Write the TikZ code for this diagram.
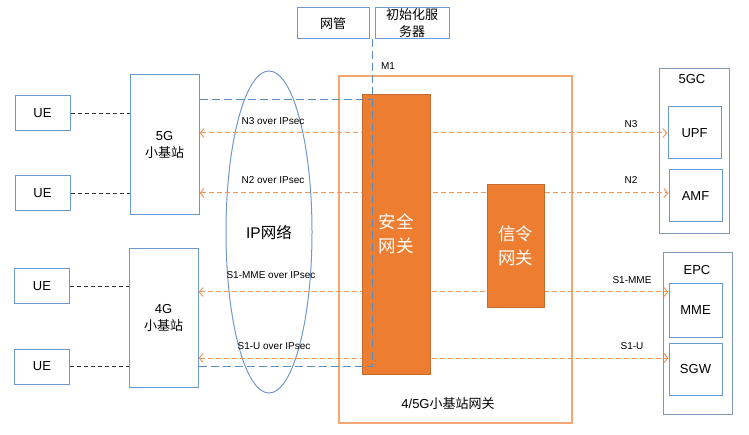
\documentclass[tikz,border=0pt]{standalone}
\usepackage{fontspec}
\setmainfont{Liberation Sans}
\newfontfamily\cjk{Noto Sans CJK SC}
\usepackage{xcolor}
\usepackage{tikz}
\usetikzlibrary{arrows.meta,shapes.geometric}

\definecolor{boxblue}{RGB}{108,154,208}
\definecolor{coreblue}{RGB}{125,152,186}
\definecolor{frameorange}{RGB}{244,166,115}
\definecolor{gwfill}{RGB}{237,125,49}
\definecolor{gwdraw}{RGB}{196,108,48}
\definecolor{sigorange}{RGB}{240,152,92}
\definecolor{mgmtblue}{RGB}{95,140,192}
\definecolor{netblue}{RGB}{112,152,202}

\begin{document}
\begin{tikzpicture}[
  x=1pt, y=-1pt,
  box/.style={rectangle, draw=boxblue, line width=1pt, align=center, inner sep=0pt, font=\fontsize{13}{17}\selectfont},
  corebox/.style={rectangle, draw=coreblue, line width=1pt, inner sep=0pt},
  frame/.style={rectangle, draw=frameorange, line width=1.2pt, inner sep=0pt},
  gwbox/.style={rectangle, fill=gwfill, draw=gwdraw, line width=0.8pt, text=white, align=center, inner sep=0pt, font=\fontsize{17.5}{24}\selectfont\cjk},
  ipnet/.style={ellipse, draw=netblue, line width=1pt, inner sep=0pt, font=\fontsize{15.5}{18}\selectfont},
  lbl/.style={inner sep=0pt, font=\fontsize{10}{12}\selectfont},
  title/.style={inner sep=0pt, font=\fontsize{13}{16}\selectfont},
  air/.style={draw=black!80, line width=1pt, dash pattern=on 4pt off 3pt},
  sig/.style={draw=sigorange, line width=1pt, dash pattern=on 5pt off 3pt, {Straight Barb[length=4pt,width=9pt]}-{Straight Barb[length=4pt,width=9pt]}},
  mgmt/.style={draw=mgmtblue, line width=1pt, dash pattern=on 8pt off 4pt}
]
\useasboundingbox (0,0) rectangle (749,435);

% terminals and small cells
\node[box, minimum width=55pt, minimum height=35pt] (ue1) at (42.5,113.5) {UE};
\node[box, minimum width=55pt, minimum height=35pt] (ue2) at (42.5,193.5) {UE};
\node[box, minimum width=55pt, minimum height=35pt] (ue3) at (42,286.5) {UE};
\node[box, minimum width=55pt, minimum height=35pt] (ue4) at (42,366.5) {UE};
\node[box, minimum width=69pt, minimum height=140pt] (gnb) at (164.5,145) {5G\\{\cjk 小基站}};
\node[box, minimum width=69pt, minimum height=138pt] (enb) at (163.5,318) {4G\\{\cjk 小基站}};

\draw[air] (ue1.east) -- (ue1.east -| gnb.west);
\draw[air] (ue2.east) -- (ue2.east -| gnb.west);
\draw[air] (ue3.east) -- (ue3.east -| enb.west);
\draw[air] (ue4.east) -- (ue4.east -| enb.west);

% IP network
\node[ipnet, minimum width=86pt, minimum height=322pt] (ipnet) at (269,232) {IP{\cjk 网络}};

% management boxes
\node[box, minimum width=72pt, minimum height=31pt] (nms) at (333,23.5) {{\cjk 网管}};
\node[box, minimum width=74pt, minimum height=31pt] (initsrv) at (412,23.5) {{\cjk 初始化服}\\{\cjk 务器}};

% gateway frame
\node[frame, minimum width=233pt, minimum height=347pt] (gwframe) at (455.5,249.5) {};
\node[title] (gwlabel) at (448,404) {4/5G{\cjk 小基站网关}};

% core networks
\node[corebox, minimum width=70pt, minimum height=165pt] (core5g) at (694,151.5) {};
\node[title] (core5glabel) at (692,79) {5GC};
\node[box, minimum width=53pt, minimum height=52pt] (upf) at (694.5,133) {UPF};
\node[box, minimum width=53pt, minimum height=52pt] (amf) at (695.5,196) {AMF};
\node[corebox, minimum width=69pt, minimum height=161pt] (epc) at (697.5,333.5) {};
\node[title] (epclabel) at (697,270) {EPC};
\node[box, minimum width=53pt, minimum height=53pt] (mme) at (695.5,310.5) {MME};
\node[box, minimum width=53pt, minimum height=52pt] (sgw) at (695.5,369) {SGW};

% interfaces
\draw[sig] (gnb.east |- upf.west) -- (upf.west);
\draw[sig] (gnb.east |- 0,193) -- (amf.west |- 0,193);
\draw[sig] (enb.east |- 0,292) -- (mme.west |- 0,292);
\draw[sig] (enb.east |- 0,358) -- (sgw.west |- 0,358);
\node[lbl] (n3ip) at (273,121) {N3 over IPsec};
\node[lbl] (n2ip) at (273,180) {N2 over IPsec};
\node[lbl] (s1mmeip) at (271,275) {S1-MME over IPsec};
\node[lbl] (s1uip) at (274,346) {S1-U over IPsec};
\node[lbl] (n3) at (631,124) {N3};
\node[lbl] (n2) at (631,180) {N2};
\node[lbl] (s1mme) at (632,280) {S1-MME};
\node[lbl] (s1u) at (632,346) {S1-U};

% gateways
\node[gwbox, minimum width=68pt, minimum height=280pt] (segw) at (396,234) {安全\\网关};
\node[gwbox, minimum width=57pt, minimum height=123pt] (sigw) at (515.5,245.5) {信令\\网关};

% M1 management path
\coordinate (m1top) at ([xshift=-2pt]initsrv.south west);
\draw[mgmt] (m1top) -- (m1top |- 0,366) -- (enb.east |- 0,366);
\draw[mgmt] (gnb.east |- 0,100) -- (m1top |- 0,100);
\node[lbl] (m1) at (388,66) {M1};

\end{tikzpicture}
\end{document}
